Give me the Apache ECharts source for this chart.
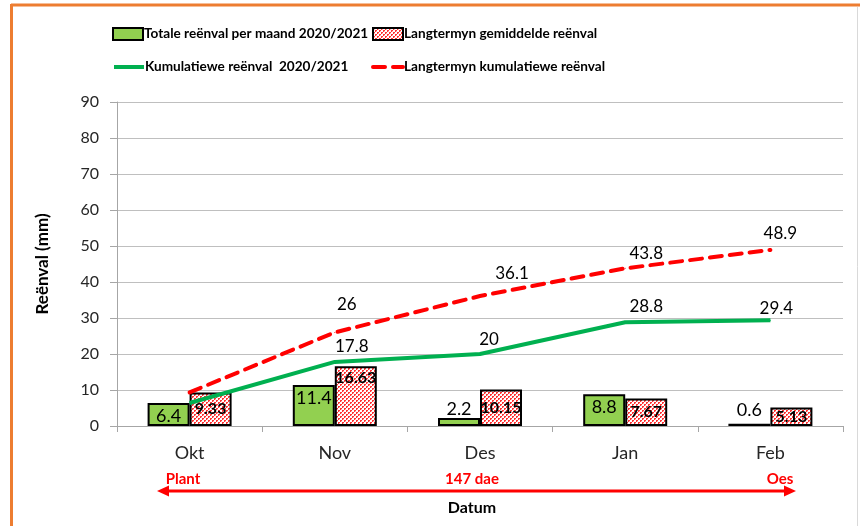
<!DOCTYPE html>
<html>
<head>
<meta charset="utf-8">
<script src="https://cdn.jsdelivr.net/npm/echarts@6/dist/echarts.min.js"></script>
<style>
  html, body { margin: 0; padding: 0; background: #fff; }
  #chart { width: 860px; height: 526px; }
</style>
</head>
<body>
<div id="chart"></div>
<script>
// --- data ---
const months = ["Okt", "Nov", "Des", "Jan", "Feb"];
const monthlyRain = [6.4, 11.4, 2.2, 8.8, 0.6];          // Totale reënval per maand 2020/2021
const longTermAvg = [9.33, 16.63, 10.15, 7.67, 5.13];    // Langtermyn gemiddelde reënval
const cumulativeRain = [6.4, 17.8, 20, 28.8, 29.4];      // Kumulatiewe reënval 2020/2021
const longTermCumulative = [9.33, 26, 36.1, 43.8, 48.9]; // Langtermyn kumulatiewe reënval
const yMin = 0, yMax = 90, yStep = 10;

const names = {
  monthly: "Totale reënval per maand 2020/2021",
  avg: "Langtermyn gemiddelde reënval",
  cum: "Kumulatiewe reënval  2020/2021",
  cumAvg: "Langtermyn kumulatiewe reënval",
};

// label nudges (Excel labels were dragged by hand), [dx, dy] from the point
const cumLabelShift = [null, [17, -15], [9, -14], [21, -16], [6, -12]];
const cumAvgLabelShift = [null, [12, -28], [32, -23], [21, -15], [10, -16]];

const FONT = "Lato, 'Open Sans', sans-serif";
const GREEN_BAR = "#92D050";
const GREEN_LINE = "#00B050";
const RED = "#FF0000";

// red/white hatch fill for the long-term bars
function makeHatch() {
  const c = document.createElement("canvas");
  c.width = 4;
  c.height = 4;
  const ctx = c.getContext("2d");
  ctx.fillStyle = "#fff";
  ctx.fillRect(0, 0, 4, 4);
  ctx.fillStyle = "#f33";
  ctx.fillRect(0, 0, 2, 2);
  ctx.fillRect(2, 2, 2, 2);
  ctx.fillStyle = "#fbb";
  ctx.fillRect(1, 1, 1, 1);
  ctx.fillRect(3, 3, 1, 1);
  return c;
}
const hatch = { image: makeHatch(), repeat: "repeat" };

const chart = echarts.init(document.getElementById("chart"), null, { renderer: "canvas" });

function lineLabels(values, shifts) {
  return values.map((v, i) => {
    const s = shifts[i];
    if (!s) return { value: v, label: { show: false } };
    return { value: v, label: { show: true, position: "inside", offset: s } };
  });
}

const legendBase = {
  padding: 0,
  itemWidth: 30,
  itemHeight: 12,
  textStyle: { fontFamily: FONT, fontWeight: "bold", fontSize: 13.6, color: "#000", padding: [0, 0, 0, -4] },
  selectedMode: false,
};

const option = {
  backgroundColor: "#fff",
  animation: false,
  legend: [
    { ...legendBase, data: [{ name: names.monthly, icon: "rect" }], left: 112, top: 27 },
    { ...legendBase, data: [{ name: names.avg, icon: "rect" }], left: 372, top: 27 },
    {
      ...legendBase, data: [names.cum], left: 112, top: 60,
      itemStyle: { opacity: 0 }, lineStyle: { width: 4 },
    },
    {
      ...legendBase, data: [names.cumAvg], left: 371, top: 60,
      itemStyle: { opacity: 0 }, lineStyle: { width: 4 },
    },
  ],
  grid: { left: 117, right: 17, top: 102, bottom: 100 },
  xAxis: {
    type: "category",
    data: months,
    name: "Datum",
    nameLocation: "middle",
    nameGap: 74,
    nameTextStyle: { fontFamily: FONT, fontWeight: "bold", fontSize: 16, color: "#000", padding: [0, 16, 0, 0] },
    axisLine: { lineStyle: { color: "#a6a6a6", width: 1 } },
    axisTick: { show: true, length: 6, lineStyle: { color: "#a6a6a6" } },
    axisLabel: { fontFamily: FONT, fontSize: 18, color: "#262626", margin: 18 },
  },
  yAxis: {
    type: "value",
    min: yMin,
    max: yMax,
    interval: yStep,
    name: "Reënval (mm)",
    nameLocation: "middle",
    nameGap: 66,
    nameTextStyle: { fontFamily: FONT, fontWeight: "bold", fontSize: 17, color: "#000" },
    axisLine: { show: true, lineStyle: { color: "#a6a6a6", width: 1 } },
    axisTick: { show: true, length: 7, lineStyle: { color: "#a6a6a6" } },
    axisLabel: { fontFamily: FONT, fontSize: 16, color: "#262626", margin: 18 },
    splitLine: { lineStyle: { color: "#bfbfbf", width: 1 } },
  },
  series: [
    {
      name: names.monthly,
      type: "bar",
      barWidth: 42,
      barGap: "0%",
      itemStyle: { color: GREEN_BAR, borderColor: "#000", borderWidth: 2 },
      label: { show: true, position: "insideTop", distance: 4, fontFamily: FONT, fontSize: 18, color: "#000" },
      data: monthlyRain.map((v) =>
        v < 5 ? { value: v, label: { position: "top", distance: v < 1 ? 5 : 0 } } : v
      ),
      z: 2,
    },
    {
      name: names.avg,
      type: "bar",
      barWidth: 42,
      barGap: "0%",
      itemStyle: { color: hatch, borderColor: "#000", borderWidth: 2 },
      label: { show: true, position: "inside", fontFamily: FONT, fontWeight: "bold", fontSize: 16, color: "#000" },
      data: longTermAvg.map((v) =>
        v > 15 ? { value: v, label: { position: "insideTop", distance: 4 } } : v
      ),
      z: 2,
    },
    {
      name: names.cum,
      type: "line",
      symbol: "circle",
      symbolSize: 1,
      itemStyle: { color: GREEN_LINE },
      lineStyle: { color: GREEN_LINE, width: 4 },
      label: { fontFamily: FONT, fontSize: 17, color: "#000" },
      data: lineLabels(cumulativeRain, cumLabelShift),
      z: 4,
    },
    {
      name: names.cumAvg,
      type: "line",
      symbol: "circle",
      symbolSize: 1,
      itemStyle: { color: RED },
      lineStyle: { color: RED, width: 4, type: [12, 8], cap: "round" },
      label: { fontFamily: FONT, fontSize: 17, color: "#000" },
      data: lineLabels(longTermCumulative, cumAvgLabelShift),
      z: 4,
    },
  ],
  graphic: [
    // chart frame (orange top/left, faint right)
    { type: "line", shape: { x1: 11, y1: 5, x2: 860, y2: 5 }, style: { stroke: "#ED7D31", lineWidth: 3 } },
    { type: "line", shape: { x1: 11.5, y1: 4, x2: 11.5, y2: 526 }, style: { stroke: "#ED7D31", lineWidth: 3 } },
    { type: "line", shape: { x1: 857.5, y1: 7, x2: 857.5, y2: 526 }, style: { stroke: "#d9d9d9", lineWidth: 1 } },
    // season arrow
    { type: "line", shape: { x1: 166, y1: 491, x2: 787, y2: 491 }, style: { stroke: RED, lineWidth: 3 } },
    { type: "polygon", shape: { points: [[157, 491], [169, 485.5], [169, 496.5]] }, style: { fill: RED } },
    { type: "polygon", shape: { points: [[796, 491], [784, 485.5], [784, 496.5]] }, style: { fill: RED } },
    {
      type: "text", x: 183, y: 479,
      style: { text: "Plant", fill: RED, font: "bold 15px " + FONT, align: "center", verticalAlign: "middle" },
    },
    {
      type: "text", x: 472, y: 479,
      style: { text: "147 dae", fill: RED, font: "bold 15px " + FONT, align: "center", verticalAlign: "middle" },
    },
    {
      type: "text", x: 780, y: 479,
      style: { text: "Oes", fill: RED, font: "bold 15px " + FONT, align: "center", verticalAlign: "middle" },
    },
  ],
};

chart.setOption(option);
</script>
</body>
</html>
